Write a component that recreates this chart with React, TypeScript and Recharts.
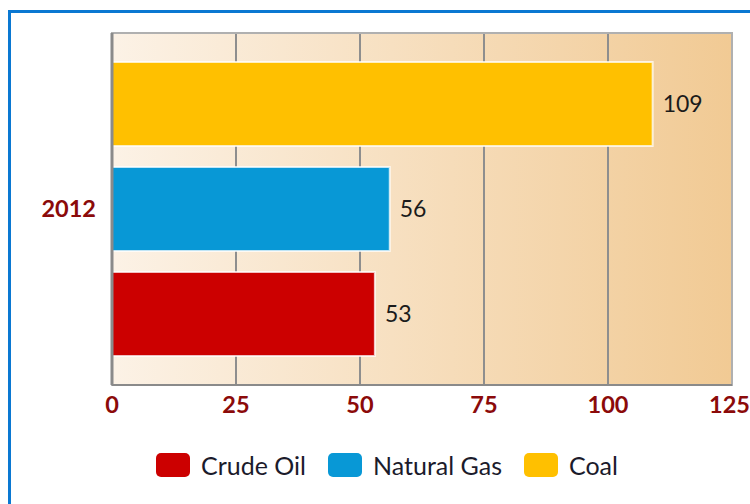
import {
  Bar,
  BarChart,
  CartesianGrid,
  LabelList,
  ReferenceArea,
  XAxis,
  YAxis,
} from "recharts";

const categories = ["2012"];
const crudeOil = [53];
const naturalGas = [56];
const coal = [109];
const xTicks = [0, 25, 50, 75, 100, 125];

const series = [
  { key: "crudeOil", name: "Crude Oil", color: "#cc0000" },
  { key: "naturalGas", name: "Natural Gas", color: "#0898d6" },
  { key: "coal", name: "Coal", color: "#ffc000" },
];

const data = categories.map((year, i) => ({
  year,
  crudeOil: crudeOil[i],
  naturalGas: naturalGas[i],
  coal: coal[i],
}));

const font = "Lato, 'Open Sans', sans-serif";
const tickStyle = { fill: "#8b0a0a", fontSize: 23.5, fontWeight: 700, fontFamily: font };
const labelStyle = { fill: "#1b1b1b", fontSize: 23, fontFamily: font };

export default function App() {
  // bars drawn top to bottom: coal, natural gas, crude oil
  const drawOrder = [...series].reverse();
  return (
    <div
      style={{
        position: "absolute",
        left: 0,
        top: 0,
        width: 750,
        height: 504,
        overflow: "hidden",
        background: "#fff",
      }}
    >
      <div
        style={{
          position: "absolute",
          left: 8,
          top: 10,
          width: 780,
          height: 520,
          border: "3px solid #0a78d2",
        }}
      />
      <div style={{ position: "absolute", left: 0, top: 0 }}>
        <BarChart
          width={750}
          height={430}
          data={data}
          layout="vertical"
          margin={{ top: 33, right: 18, bottom: 0, left: 0 }}
          barSize={84}
          barGap={21}
        >
          <defs>
            <linearGradient id="plotBg" x1="0" y1="0" x2="1" y2="0">
              <stop offset="0%" stopColor="#fcf2e6" />
              <stop offset="100%" stopColor="#f1ca94" />
            </linearGradient>
          </defs>
          <CartesianGrid
            horizontal={false}
            fill="url(#plotBg)"
            fillOpacity={1}
            stroke="#8e8e8e"
            strokeWidth={2}
          />
          <ReferenceArea
            x1={0}
            x2={125}
            fill="none"
            stroke="#b0b0b0"
            strokeWidth={2}
          />
          <XAxis
            type="number"
            domain={[0, 125]}
            ticks={xTicks}
            tick={tickStyle}
            tickLine={false}
            tickMargin={5}
            axisLine={{ stroke: "#8a8a8a", strokeWidth: 2 }}
            height={45}
            allowDataOverflow
          />
          <YAxis
            type="category"
            dataKey="year"
            width={112}
            tick={tickStyle}
            tickLine={false}
            tickMargin={10}
            axisLine={{ stroke: "#8a8a8a", strokeWidth: 3 }}
          />
          {drawOrder.map((s) => (
            <Bar
              key={s.key}
              dataKey={s.key}
              name={s.name}
              fill={s.color}
              stroke="#ffffff"
              strokeOpacity={0.75}
              strokeWidth={2}
              isAnimationActive={false}
            >
              <LabelList dataKey={s.key} position="right" offset={10} style={labelStyle} />
            </Bar>
          ))}
        </BarChart>
      </div>
      <div
        style={{
          position: "absolute",
          left: 0,
          top: 452,
          width: 774,
          display: "flex",
          justifyContent: "center",
          alignItems: "center",
          fontFamily: font,
          fontSize: 25,
          lineHeight: "26px",
          color: "#1b1b2b",
        }}
      >
        {series.map((s) => (
          <div
            key={s.key}
            style={{ display: "flex", alignItems: "center", margin: "0 11px" }}
          >
            <span
              style={{
                display: "inline-block",
                width: 34,
                height: 24,
                borderRadius: 5,
                background: s.color,
                marginRight: 11,
              }}
            />
            <span>{s.name}</span>
          </div>
        ))}
      </div>
    </div>
  );
}
